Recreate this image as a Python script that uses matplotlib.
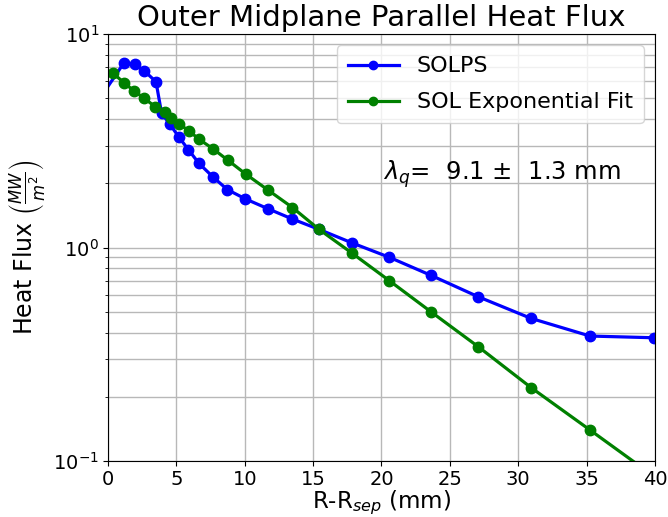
import matplotlib.pyplot as plt
import numpy as np

# SOLPS profile (R-Rsep in mm, heat flux in MW/m^2)
solps_x = [-0.6, 1.17, 1.95, 2.65, 3.51, 3.92, 4.53, 5.17, 5.87, 6.65, 7.65, 8.72,
           10.05, 11.7, 13.49, 15.43, 17.87, 20.58, 23.62, 27.08, 30.93, 35.25, 39.9]
solps_q = [5.0, 7.34, 7.21, 6.73, 5.98, 4.25, 3.78, 3.30, 2.88, 2.48, 2.15, 1.87,
           1.69, 1.52, 1.36, 1.217, 1.05, 0.90, 0.741, 0.588, 0.466, 0.385, 0.378]

# exponential fit in the SOL
fit_x = [0.39, 1.17, 1.90, 2.65, 3.46, 4.17, 4.63, 5.21, 5.92, 6.68, 7.65, 8.75,
         10.07, 11.7, 13.49, 15.43, 17.87, 20.58, 23.62, 27.08, 30.93, 35.25, 39.9]
fit_q = [6.54, 5.92, 5.42, 5.0, 4.57, 4.31, 4.03, 3.79, 3.52, 3.21, 2.91, 2.57,
         2.21, 1.86, 1.54, 1.217, 0.939, 0.699, 0.50, 0.343, 0.221, 0.1397, 0.085]

lambda_q = 9.1
lambda_err = 1.3

fig = plt.figure(figsize=(6.68, 5.17), dpi=100)
ax = fig.add_axes([0.1617, 0.1083, 0.8188, 0.8257])

ax.semilogy(solps_x, solps_q, '-o', color='blue', lw=2.3, ms=7.5, label='SOLPS')
ax.semilogy(fit_x, fit_q, '-o', color='green', lw=2.3, ms=7.5, label='SOL Exponential Fit')

ax.set_xlim(0, 40)
ax.set_ylim(0.1, 10)
ax.grid(True, which='both', color='#b8b8b8', lw=1)
ax.set_axisbelow(True)
ax.tick_params(labelsize=14, pad=3)

ax.set_title('Outer Midplane Parallel Heat Flux', fontsize=21)
ax.set_xlabel('R-R$_{sep}$ (mm)', fontsize=16.5, labelpad=0)
ax.set_ylabel(r'Heat Flux $\left(\frac{MW}{m^2}\right)$', fontsize=17)
ax.text(20.1, 2.07, r'$\lambda_q$=  %.1f $\pm$  %.1f mm' % (lambda_q, lambda_err),
        fontsize=17.5, va='baseline')
ax.legend(loc='upper right', fontsize=16, handlelength=2.3, labelspacing=0.72,
          borderpad=0.5, markerscale=0.8)

fig.savefig('out.png', dpi=100)
